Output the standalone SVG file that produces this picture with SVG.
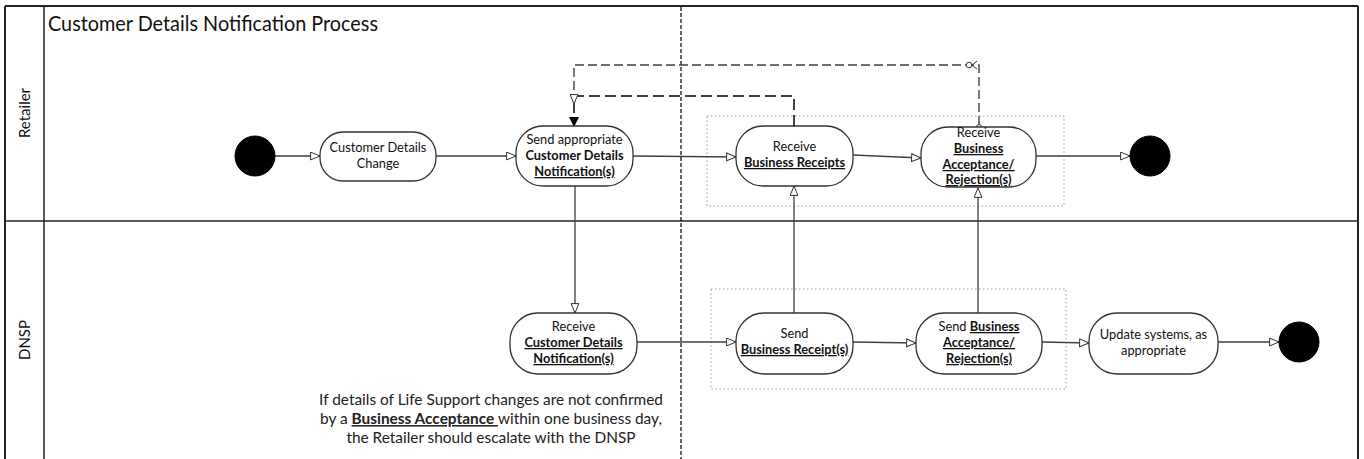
<svg xmlns="http://www.w3.org/2000/svg" width="1364" height="459" viewBox="0 0 1364 459">
<defs>
<style>
.frame{fill:none;stroke:#222;stroke-width:2}
.lane{fill:none;stroke:#222;stroke-width:1.5}
.node{fill:#fff;stroke:#333;stroke-width:1.3}
.start{fill:#000;stroke:#000}
.flow{fill:none;stroke:#404040;stroke-width:1.3}
.dash1{fill:none;stroke:#404040;stroke-width:1.4;stroke-dasharray:9 4}
.dash2{fill:none;stroke:#404040;stroke-width:2;stroke-dasharray:11 5}
.sep{fill:none;stroke:#000;stroke-width:1.2;stroke-dasharray:4 2}
.grp{fill:none;stroke:#999;stroke-width:1;stroke-dasharray:1.5 2.5}
.t{font-family:Lato,"Open Sans",sans-serif;font-size:12.8px;fill:#111;text-anchor:middle}
.b{font-weight:bold}
.u{text-decoration:underline}
.title{font-family:Lato,"Open Sans",sans-serif;font-size:20.5px;fill:#111}
.lbl{font-family:Lato,"Open Sans",sans-serif;font-size:15px;fill:#111;text-anchor:middle}
.note{font-family:Lato,"Open Sans",sans-serif;font-size:15.4px;fill:#222;text-anchor:middle}
</style>
<marker id="open" markerWidth="12" markerHeight="10" refX="10" refY="4.5" orient="auto" markerUnits="userSpaceOnUse"><path d="M0.6,0.6 L10,4.5 L0.6,8.4 z" fill="#fff" stroke="#333" stroke-width="1"/></marker>
<marker id="fill" markerWidth="12" markerHeight="12" refX="10" refY="5" orient="auto" markerUnits="userSpaceOnUse"><path d="M0,0 L10,5 L0,10 z" fill="#000"/></marker>
</defs>
<rect width="1364" height="459" fill="#fff"/>
<g id="frame">
<line class="frame" x1="5" y1="6" x2="1358" y2="6"/>
<line class="frame" x1="5" y1="6" x2="5" y2="459"/>
<line class="frame" x1="1358" y1="6" x2="1358" y2="459"/>
<line class="lane" x1="44" y1="6" x2="44" y2="459"/>
<line class="lane" x1="5" y1="221" x2="1358" y2="221"/>
<line class="sep" x1="681" y1="7" x2="681" y2="459"/>
<text class="lbl" transform="translate(30,113) rotate(-90)">Retailer</text>
<text class="lbl" transform="translate(30,340) rotate(-90)">DNSP</text>
<text class="title" x="48" y="31" textLength="330" lengthAdjust="spacingAndGlyphs">Customer Details Notification Process</text>
</g>
<g id="groups">
<rect class="grp" x="707" y="116" width="357" height="90"/>
<rect class="grp" x="711" y="289" width="355" height="100"/>
</g>
<g id="connectors">
<line class="flow" x1="275" y1="156" x2="320" y2="156" marker-end="url(#open)"/>
<line class="flow" x1="436" y1="156" x2="516" y2="156" marker-end="url(#open)"/>
<line class="flow" x1="633" y1="156" x2="736" y2="157" marker-end="url(#open)"/>
<line class="flow" x1="853" y1="155" x2="921" y2="158" marker-end="url(#open)"/>
<line class="flow" x1="1036" y1="156" x2="1130" y2="156" marker-end="url(#open)"/>
<line class="flow" x1="575" y1="186" x2="575" y2="313" marker-end="url(#open)"/>
<line class="flow" x1="637" y1="342" x2="736" y2="342" marker-end="url(#open)"/>
<line class="flow" x1="853" y1="342" x2="916" y2="343" marker-end="url(#open)"/>
<line class="flow" x1="1042" y1="342" x2="1089" y2="343" marker-end="url(#open)"/>
<line class="flow" x1="1218" y1="342" x2="1279" y2="342" marker-end="url(#open)"/>
<line class="flow" x1="794" y1="313" x2="794" y2="186" marker-end="url(#open)"/>
<line class="flow" x1="978" y1="313" x2="978" y2="188" marker-end="url(#open)"/>
<path class="dash2" d="M794,126 V96 H574 V127" marker-end="url(#fill)"/>
<path class="dash1" d="M979,125 V65 H574 V104" marker-end="url(#open)"/>
<circle cx="979" cy="127" r="2.5" fill="#fff" stroke="#333" stroke-width="1"/>
<circle cx="969" cy="65" r="2.8" fill="#fff" stroke="#333" stroke-width="1"/>
<path d="M977,61 L972,65 L977,69" fill="none" stroke="#333" stroke-width="1"/>
</g>
<g id="start1"><circle class="start" cx="255" cy="156" r="20"/></g>
<g id="cdc">
<rect class="node" x="320" y="132" width="116" height="49" rx="23" ry="23"/>
<text class="t" x="378" y="152">Customer Details</text>
<text class="t" x="378" y="168">Change</text>
</g>
<g id="send-cdn">
<rect class="node" x="516" y="126" width="117" height="60" rx="27" ry="27"/>
<text class="t" x="574.5" y="144">Send appropriate</text>
<text class="t b" x="574.5" y="160">Customer Details</text>
<text class="t b u" x="574.5" y="176">Notification(s)</text>
</g>
<g id="recv-br">
<rect class="node" x="736" y="126" width="117" height="60" rx="27" ry="27"/>
<text class="t" x="794.5" y="151">Receive</text>
<text class="t b u" x="794.5" y="167">Business Receipts</text>
</g>
<g id="recv-ba">
<rect class="node" x="921" y="127" width="115" height="60" rx="27" ry="27"/>
<text class="t" x="978.5" y="137">Receive</text>
<text class="t b u" x="978.5" y="153">Business</text>
<text class="t b u" x="978.5" y="169">Acceptance/</text>
<text class="t b u" x="978.5" y="184">Rejection(s)</text>
</g>
<g id="end1"><circle class="start" cx="1150" cy="156" r="20"/></g>
<g id="recv-cdn">
<rect class="node" x="510" y="313" width="127" height="61" rx="28" ry="28"/>
<text class="t" x="573.5" y="331">Receive</text>
<text class="t b u" x="573.5" y="347">Customer Details</text>
<text class="t b u" x="573.5" y="363">Notification(s)</text>
</g>
<g id="send-br">
<rect class="node" x="736" y="313" width="117" height="61" rx="28" ry="28"/>
<text class="t" x="794.5" y="338">Send</text>
<text class="t b u" x="794.5" y="354">Business Receipt(s)</text>
</g>
<g id="send-ba">
<rect class="node" x="916" y="313" width="126" height="61" rx="28" ry="28"/>
<text class="t" x="979" y="331">Send <tspan class="b u">Business</tspan></text>
<text class="t b u" x="979" y="347">Acceptance/</text>
<text class="t b u" x="979" y="363">Rejection(s)</text>
</g>
<g id="update">
<rect class="node" x="1089" y="313" width="129" height="61" rx="28" ry="28"/>
<text class="t" x="1153.5" y="339">Update systems, as</text>
<text class="t" x="1153.5" y="355">appropriate</text>
</g>
<g id="end2"><circle class="start" cx="1299" cy="342" r="20"/></g>
<g id="note">
<text class="note" x="491" y="405">If details of Life Support changes are not confirmed</text>
<text class="note" x="491" y="424">by a <tspan class="b u">Business Acceptance </tspan>within one business day,</text>
<text class="note" x="491" y="443">the Retailer should escalate with the DNSP</text>
</g>
</svg>
